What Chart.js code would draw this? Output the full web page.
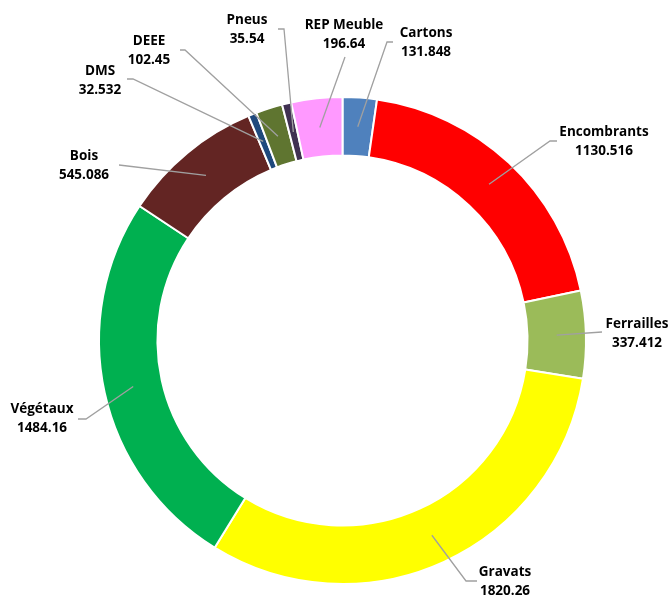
<!DOCTYPE html>
<html>
<head>
<meta charset="utf-8">
<script src="https://cdn.jsdelivr.net/npm/chart.js@4.4.1/dist/chart.umd.min.js"></script>
<style>
  html, body { margin: 0; padding: 0; background: #fff; }
  #wrap { width: 670px; height: 597px; position: relative; }
</style>
</head>
<body>
<div id="wrap"><canvas id="donut"></canvas></div>
<script>
const categories = ['Cartons', 'Encombrants', 'Ferrailles', 'Gravats', 'Végétaux', 'Bois', 'DMS', 'DEEE', 'Pneus', 'REP Meuble'];
const tonnages = [131.848, 1130.516, 337.412, 1820.26, 1484.16, 545.086, 32.532, 102.45, 35.54, 196.64];
const valueLabels = ['131.848', '1130.516', '337.412', '1820.26', '1484.16', '545.086', '32.532', '102.45', '35.54', '196.64'];
const sliceColors = ['#4F81BD', '#FF0000', '#9BBB59', '#FFFF00', '#00B050', '#632523', '#1F497D', '#5F7530', '#403152', '#FF99FF'];

// where Excel put each label: text centre, then the bends of the leader line
const labelLayout = [
  { x: 426, y: 43, bends: [[387, 42], [393, 42]] },
  { x: 604, y: 142, bends: [[550, 141], [557, 141]] },
  { x: 637, y: 334, bends: [[602, 332]] },
  { x: 505, y: 582, bends: [[466, 581], [477, 581]] },
  { x: 42, y: 419, bends: [[86, 419], [78, 419]] },
  { x: 84, y: 166, bends: [[119, 165]] },
  { x: 100, y: 81, bends: [[133, 79], [127, 79]] },
  { x: 149, y: 51, bends: [[185, 50], [180, 50]] },
  { x: 247, y: 30, bends: [[284, 29], [278, 29]] },
  { x: 344, y: 35, bends: [[345, 57]] },
];

const calloutPlugin = {
  id: 'callouts',
  afterDatasetsDraw(chart) {
    const ctx = chart.ctx;
    const arcs = chart.getDatasetMeta(0).data;
    ctx.save();
    arcs.forEach((arc, i) => {
      const p = arc.getProps(['x', 'y', 'startAngle', 'endAngle', 'innerRadius', 'outerRadius'], true);
      const mid = (p.startAngle + p.endAngle) / 2;
      const r = (p.innerRadius + p.outerRadius) / 2;
      const sx = p.x + Math.cos(mid) * r;
      const sy = p.y + Math.sin(mid) * r;
      const lay = labelLayout[i];

      ctx.beginPath();
      ctx.moveTo(sx, sy);
      lay.bends.forEach(b => ctx.lineTo(b[0], b[1]));
      ctx.strokeStyle = '#A0A0A0';
      ctx.lineWidth = 1.3;
      ctx.stroke();

      ctx.fillStyle = '#000';
      ctx.font = 'bold 13.5px "Open Sans"';
      ctx.textAlign = 'center';
      ctx.textBaseline = 'middle';
      ctx.fillText(categories[i], lay.x, lay.y - 9.5);
      ctx.fillText(valueLabels[i], lay.x, lay.y + 9.5);
    });
    ctx.restore();
  }
};

new Chart(document.getElementById('donut'), {
  type: 'doughnut',
  data: {
    labels: categories,
    datasets: [{
      data: tonnages,
      backgroundColor: sliceColors,
      borderColor: '#FFFFFF',
      borderWidth: 2,
    }],
  },
  options: {
    responsive: true,
    maintainAspectRatio: false,
    animation: false,
    cutout: '76%',
    layout: { padding: { left: 98, right: 83, top: 96, bottom: 12 } },
    plugins: {
      legend: { display: false },
      tooltip: { enabled: false },
    },
  },
  plugins: [calloutPlugin],
});
</script>
</body>
</html>
